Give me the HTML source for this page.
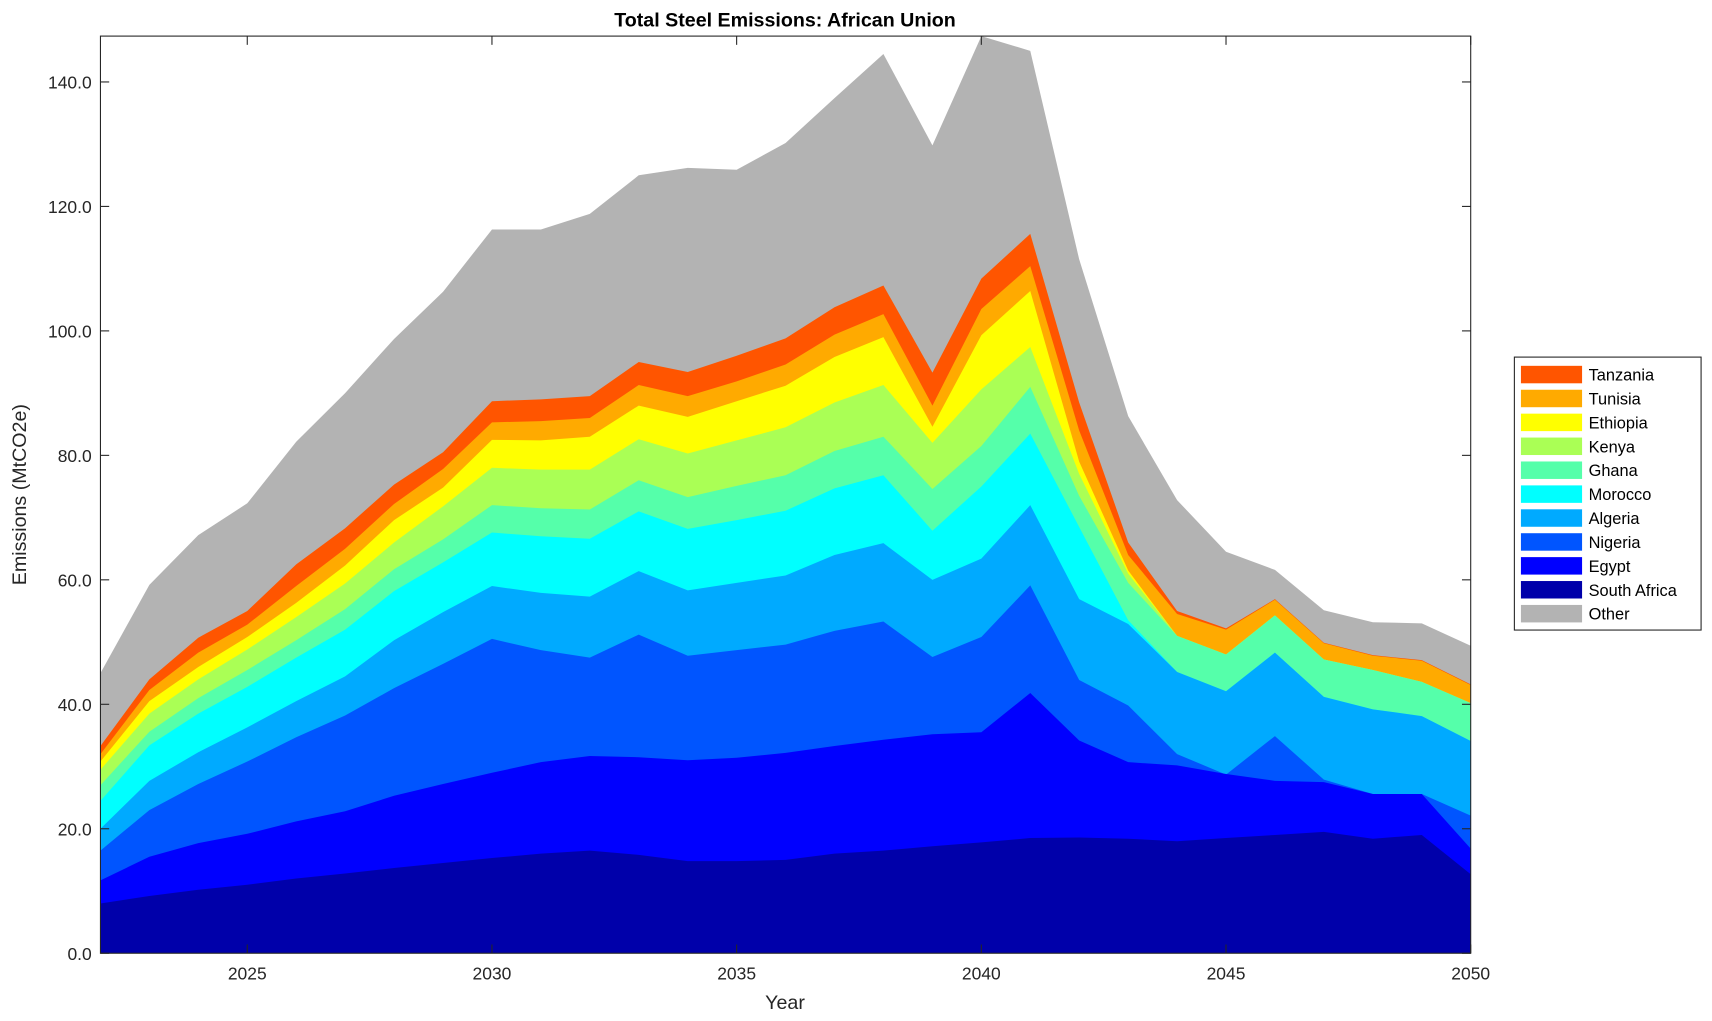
<!DOCTYPE html>
<html><head><meta charset="utf-8"><style>
html,body{margin:0;padding:0;background:#fff;}
svg{display:block;font-family:"Liberation Sans",Arial,sans-serif;}
</style></head><body>
<svg id="s" width="1712" height="1021" viewBox="0 0 1568 935" xmlns="http://www.w3.org/2000/svg">
<rect width="1568" height="935" fill="#fff"/>
<g id="areas"></g>
<rect x="92" y="33" width="1255" height="840" fill="none" stroke="#262626" stroke-width="1"/>
<g id="ticks" stroke="#262626" stroke-width="1"></g>
<g id="labels" font-size="16" fill="#262626"></g>
<text x="719" y="24" text-anchor="middle" font-size="18" font-weight="bold" fill="#000">Total Steel Emissions: African Union</text>
<text x="719" y="924" text-anchor="middle" font-size="18" fill="#262626">Year</text>
<text transform="translate(24,453) rotate(-90)" text-anchor="middle" font-size="18" fill="#262626">Emissions (MtCO2e)</text>
<rect x="1387" y="327" width="171" height="250" fill="#fff" stroke="#262626" stroke-width="1"/>
<g id="legend" font-size="15" fill="#000"></g>
</svg>
<script>
const tops=[
[8,9.2,10.2,11,12,12.8,13.7,14.5,15.3,16,16.5,15.8,14.8,14.8,15,16,16.5,17.2,17.8,18.5,18.6,18.4,18,18.5,19,19.5,18.4,19,12.7],
[11.7,15.5,17.7,19.2,21.2,22.8,25.3,27.2,29,30.7,31.7,31.5,31,31.4,32.2,33.3,34.3,35.2,35.5,41.8,34.2,30.7,30.2,28.8,27.7,27.5,25.6,25.6,16.8],
[16.5,23,27.2,30.8,34.7,38.2,42.6,46.5,50.5,48.7,47.5,51.2,47.8,48.7,49.6,51.8,53.3,47.6,50.8,59.1,43.9,39.8,32,28.7,34.9,27.9,25.6,25.6,22.1],
[20,27.7,32.3,36.3,40.5,44.5,50.3,54.8,59,57.9,57.3,61.4,58.3,59.5,60.7,64,65.9,60,63.4,72,56.9,52.9,45.2,42.1,48.3,41.2,39.2,38.1,34.1],
[24.5,33.4,38.5,42.8,47.5,52,58.2,62.8,67.6,67,66.6,71,68.2,69.6,71.1,74.7,76.8,67.9,75,83.5,68.5,53.5,45.2,42.1,48.3,41.2,39.2,38.1,34.1],
[27,35.6,41,45.5,50.3,55.3,61.7,66.5,72,71.5,71.3,76,73.3,75.1,76.8,80.7,83,74.6,81.5,91,73.5,59.5,51,48,54.3,47.2,45.5,43.6,40.2],
[29.5,38.5,44,48.8,54,59.4,66,71.8,78,77.7,77.7,82.6,80.3,82.4,84.5,88.5,91.3,82,90.6,97.4,77,61,51,48,54.3,47.2,45.5,43.6,40.2],
[30.8,40.5,46,50.8,56.3,62.3,69.6,74.8,82.5,82.4,83,88,86.2,88.7,91.2,95.8,99,84.6,99.3,106.4,79,61.5,51,48,54.3,47.2,45.5,43.6,40.2],
[32,42.3,48.3,52.8,59,65,72.2,77.8,85.3,85.5,86,91.3,89.5,91.9,94.6,99.4,102.7,88,103.5,110.4,84,64,54.5,52,56.8,49.8,47.8,47,43.1],
[33.3,44,50.7,55,62.5,68.3,75.3,80.5,88.7,89,89.5,95,93.4,96,98.8,103.8,107.3,93.3,108.4,115.6,88.5,66,55,52.2,56.9,49.9,47.9,47.1,43.2],
[45,59.2,67.2,72.3,82.2,90,98.7,106.3,116.3,116.3,118.8,125,126.2,125.9,130.2,137.4,144.5,129.8,147.5,145,111.5,86.3,72.8,64.5,61.6,55.1,53.2,53,49.4]];
const cols=["#0000aa","#0000ff","#0055ff","#00aaff","#00ffff","#55ffaa","#aaff55","#ffff00","#ffaa00","#ff5500","#b3b3b3"];
const names=["South Africa","Egypt","Nigeria","Algeria","Morocco","Ghana","Kenya","Ethiopia","Tunisia","Tanzania","Other"];
const X=i=>92+i*1255/28, Y=v=>Math.max(33,873-v*5.7);
const ns="http://www.w3.org/2000/svg";
function el(t,a,p,txt){const e=document.createElementNS(ns,t);for(const k in a)e.setAttribute(k,a[k]);if(txt!==undefined)e.textContent=txt;p.appendChild(e);return e;}
const A=document.getElementById('areas');
for(let s=tops.length-1;s>=0;s--){
 let p=tops[s].map((v,i)=>X(i).toFixed(1)+','+Y(v).toFixed(1));
 p.push(X(28)+',873',X(0)+',873');
 el('polygon',{points:p.join(' '),fill:cols[s]},A);
}
const T=document.getElementById('ticks'),L=document.getElementById('labels');
for(let v=0;v<=140;v+=20){const y=Y(v);
 el('line',{x1:92,x2:100,y1:y,y2:y},T);el('line',{x1:1339,x2:1347,y1:y,y2:y},T);
 el('text',{x:84,y:y+6,'text-anchor':'end'},L,v.toFixed(1));}
for(let yr=2025;yr<=2050;yr+=5){const x=X(yr-2022);
 el('line',{x1:x,x2:x,y1:873,y2:865},T);el('line',{x1:x,x2:x,y1:33,y2:41},T);
 el('text',{x:x,y:897,'text-anchor':'middle'},L,String(yr));}
const G=document.getElementById('legend');
for(let k=0;k<11;k++){const s=k<10?9-k:10;const y=335+k*21.9;
 el('rect',{x:1393,y:y,width:56,height:16,fill:cols[s]},G);
 el('text',{x:1455,y:y+13.5},G,names[s]);}
</script>
</body></html>
